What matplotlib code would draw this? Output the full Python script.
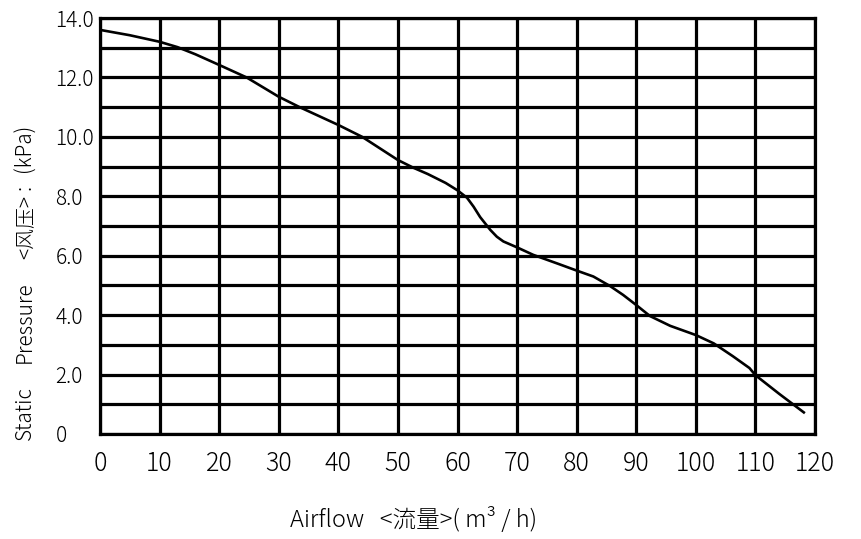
#!/usr/bin/env python3
"""
风压-流量曲线 (Static Pressure vs Airflow) の再現
"""
import matplotlib
matplotlib.use("Agg")
import matplotlib.pyplot as plt
from matplotlib.ticker import MultipleLocator, FixedLocator

# ===== データ =====
airflow = [0, 5, 10, 13, 16, 20, 24.6, 30, 33.5, 40, 44, 50, 52.6, 55, 58, 60,
           61.6, 62.7, 63.8, 65.5, 66.6, 67.7, 70, 72.7, 77, 80, 82.8, 85.6,
           87.8, 90, 92.3, 95.7, 100, 103, 106.2, 109, 110, 114, 118.3]
pressure = [13.6, 13.42, 13.2, 13.02, 12.78, 12.42, 12.0, 11.35, 11.0, 10.4,
            10.0, 9.22, 8.96, 8.75, 8.45, 8.2, 7.95, 7.65, 7.3, 6.87, 6.64,
            6.48, 6.28, 6.03, 5.72, 5.5, 5.3, 4.98, 4.68, 4.34, 3.97, 3.64,
            3.33, 3.05, 2.62, 2.22, 1.98, 1.35, 0.7]

x_ticks = [0, 10, 20, 30, 40, 50, 60, 70, 80, 90, 100, 110, 120]
y_ticks = [0, 2, 4, 6, 8, 10, 12, 14]
y_tick_labels = ["0", "2.0", "4.0", "6.0", "8.0", "10.0", "12.0", "14.0"]

FONT = ["Noto Sans CJK JP", "DejaVu Sans"]
plt.rcParams["font.family"] = FONT
plt.rcParams["font.weight"] = 300

W, H = 861, 539
fig = plt.figure(figsize=(W / 100, H / 100), dpi=100)
ax = fig.add_axes([100 / W, 1 - 434 / H, 715 / W, 416 / H])

ax.plot(airflow, pressure, color="black", linewidth=1.9,
        solid_joinstyle="round", solid_capstyle="butt", zorder=3)

ax.set_xlim(0, 120)
ax.set_ylim(0, 14)
ax.xaxis.set_major_locator(FixedLocator(x_ticks))
ax.yaxis.set_major_locator(FixedLocator(y_ticks))
ax.yaxis.set_minor_locator(MultipleLocator(1))
ax.set_xticklabels([str(v) for v in x_ticks])
ax.set_yticklabels(y_tick_labels)

ax.grid(True, which="both", color="black", linewidth=2.3)
for s in ax.spines.values():
    s.set_linewidth(2.3)
ax.tick_params(which="both", length=0)
ax.tick_params(axis="x", pad=12, labelsize=18)
ax.tick_params(axis="y", pad=32, labelsize=15)
for lab in ax.get_yticklabels():
    lab.set_horizontalalignment("left")

# 縦軸ラベル (パーツごとに配置)
y_parts = [("Static", 413), ("Pressure", 322), ("<风压>", 227), (":", 187), ("(kPa)", 148)]
for txt, yc in y_parts:
    fig.text(25 / W, 1 - yc / H, txt, rotation=90, ha="center", va="center",
             fontsize=15)

fig.text(414 / W, 1 - 520 / H, "Airflow   <流量>( m³ / h)", ha="center",
         va="center", fontsize=17)

fig.savefig("out.png", dpi=100)
plt.close(fig)
